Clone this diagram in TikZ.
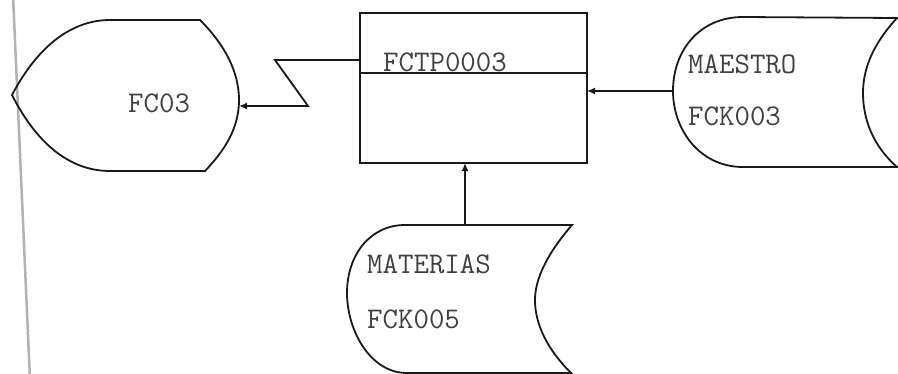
\documentclass[tikz,border=0pt]{standalone}
\usetikzlibrary{arrows.meta}
\begin{document}
\begin{tikzpicture}[x=1pt,y=-1pt,
  shapeline/.style={line width=1.8pt,black!90},
  conn/.style={line width=1.8pt,black!90,-{Latex[length=8pt,width=7pt]}},
  lbl/.style={inner sep=0pt,anchor=base west,font=\fontsize{30}{30}\selectfont\ttfamily,text=black!75},
  margin/.style={line width=2.5pt,black!30}]
\useasboundingbox (0,0) rectangle (898,373);
% scan margin line
\draw[margin] (13,-5) -- (30,380);
% display shape FC03
\draw[shapeline] (12,95) .. controls (40,42) and (75,20) .. (110,20) -- (200,20)
  .. controls (225,45) and (239,72) .. (239,100)
  .. controls (239,128) and (225,150) .. (205,171) -- (110,171)
  .. controls (75,171) and (40,150) .. (12,95) -- cycle;
\node[lbl] (fc03) at (128,112) {FC03};
\coordinate (fc03in) at (239,106);
% process box
\draw[shapeline] (360,13) rectangle (587,163);
\draw[shapeline] (360,73) -- (587,73);
\node[lbl] (proc) at (383,71) {FCTP0003};
\coordinate (boxleft) at (360,60);
\coordinate (boxright) at (587,91);
\coordinate (boxbottom) at (465,163);
% online storage MAESTRO
\draw[shapeline] (743,17) -- (897,18)
  .. controls (872,45) and (863,70) .. (863,93)
  .. controls (863,118) and (872,145) .. (897,167) -- (743,167)
  .. controls (700,167) and (673,130) .. (673,91)
  .. controls (673,50) and (700,17) .. (743,17) -- cycle;
\node[lbl] (maestro) at (688,73) {MAESTRO};
\node[lbl] (fck003) at (688,125) {FCK003};
\coordinate (maestroout) at (673,91);
% online storage MATERIAS
\draw[shapeline] (405,225) -- (572,225)
  .. controls (546,255) and (535,280) .. (535,300)
  .. controls (535,325) and (548,350) .. (571,373) -- (407,373)
  .. controls (370,373) and (347,330) .. (347,293)
  .. controls (347,255) and (370,225) .. (405,225) -- cycle;
\node[lbl] (materias) at (367,273) {MATERIAS};
\node[lbl] (fck005) at (367,328) {FCK005};
\coordinate (materiasout) at (465,225);
% connectors
\draw[conn] (boxleft) -- (275,60) -- (308,106) -- (fc03in);
\draw[conn] (maestroout) -- (boxright);
\draw[conn] (materiasout) -- (boxbottom);
\end{tikzpicture}
\end{document}
